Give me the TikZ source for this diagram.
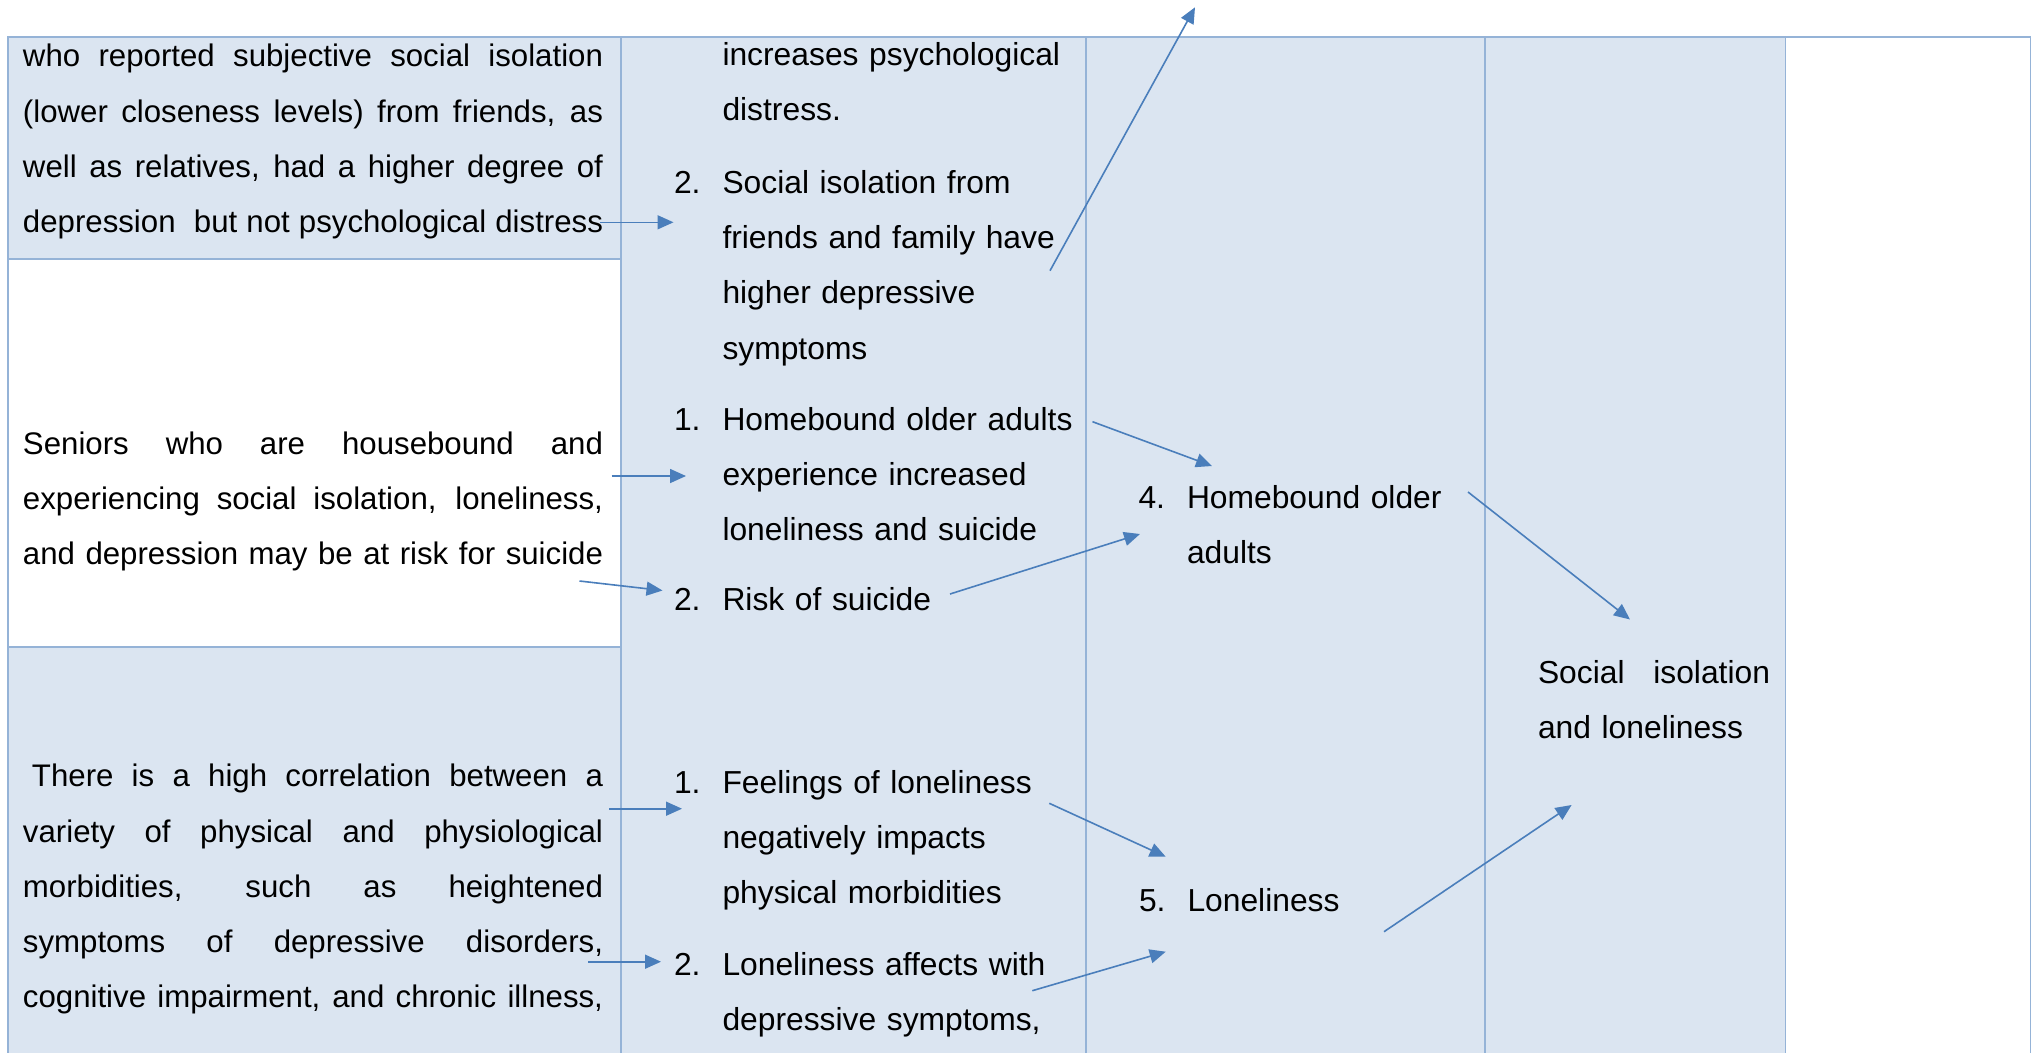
\documentclass[tikz,border=0pt]{standalone}
\usepackage{fontspec}
\setmainfont{Liberation Sans}
\usetikzlibrary{arrows.meta}
\definecolor{cellblue}{HTML}{DBE5F1}
\definecolor{gridblue}{HTML}{95B3D7}
\definecolor{arrowblue}{HTML}{4A7EBB}
\newcommand\jline[2][580pt]{\makebox[#1][s]{\spaceskip=.278em plus 1fil minus .09em\relax #2}}
\newcommand\numlab[1]{\makebox[48.5pt][l]{#1}}
\newcommand\hind{\hspace*{48.5pt}}
\begin{document}
\begin{tikzpicture}[x=1pt,y=-1pt,
  txt/.style={anchor=base west,inner sep=0pt,outer sep=0pt,text width=#1,align=left,
    font=\fontsize{31.8}{55.3}\selectfont},
  txt/.default=420pt,
  ltxt/.style={txt=590pt,font=\fontsize{31.2}{55.3}\selectfont},
  hline/.style={draw=gridblue,line width=2pt},
  vline/.style={draw=gridblue,line width=1.4pt},
  arr/.style={draw=arrowblue,line width=1.6pt,-{Triangle[length=16pt,width=14pt]}}]
\useasboundingbox (0,0) rectangle (2040,1053);
% cell shading
\fill[cellblue] (8,36.5) rectangle (621,258.5);
\fill[cellblue] (8,646.5) rectangle (621,1053);
\fill[cellblue] (621,36.5) rectangle (1785.5,1053);
% grid
\draw[hline] (7,36.5) -- (2031,36.5);
\draw[hline] (8,258.5) -- (621,258.5);
\draw[hline] (8,646.5) -- (621,646.5);
\draw[hline] (8,36.5) -- (8,1053);
\draw[vline] (621,36.5) -- (621,1053);
\draw[vline] (1086,36.5) -- (1086,1053);
\draw[vline] (1485,36.5) -- (1485,1053);
\draw[vline] (1785.5,36.5) -- (1785.5,1053);
\draw[vline] (2030.5,36.5) -- (2030.5,1053);
% left column texts
\node[ltxt] (L1) at (23,66.7) {\jline{who reported subjective social isolation}\\\jline{(lower closeness levels) from friends, as}\\\jline{well as relatives, had a higher degree of}\\\jline{depression\ \ but not psychological distress}};
\node[ltxt] (L2) at (23,454) {\jline{Seniors who are housebound and}\\\jline{experiencing social isolation, loneliness,}\\\jline{and depression may be at risk for suicide}};
\node[ltxt] (L3) at (23,786.7) {\jline{\kern9pt There is a high correlation between a}\\\jline{variety of physical and physiological}\\\jline{morbidities, such as heightened}\\\jline{symptoms of depressive disorders,}\\\jline{cognitive impairment, and chronic illness,}};
% second column
\node[txt] (m1) at (674,65) {\hind increases psychological\\\hind distress.};
\node[txt] (m2) at (674,193.3) {\numlab{2.}Social isolation from\\\hind friends and family have\\\hind higher depressive\\\hind symptoms};
\node[txt] (m3) at (674,430) {\numlab{1.}Homebound older adults\\\hind experience increased\\\hind loneliness and suicide};
\node[txt] (m4) at (674,610.5) {\numlab{2.}Risk of suicide};
\node[txt] (m5) at (674,793) {\numlab{1.}Feelings of loneliness\\\hind negatively impacts\\\hind physical morbidities};
\node[txt] (m6) at (674,975) {\numlab{2.}Loneliness affects with\\\hind depressive symptoms,};
% third column
\node[txt] (c1) at (1138.5,508) {\numlab{4.}Homebound older\\\hind adults};
\node[txt] (c2) at (1139,911.5) {\numlab{5.}Loneliness};
% fourth column
\node[txt=240pt] (d1) at (1538,683) {\jline[232pt]{Social isolation}\\and loneliness};
% arrow end points
\coordinate (a1s) at (600,222.3);   \coordinate (a1e) at (673.5,222.3);
\coordinate (a2s) at (1050,270.7);  \coordinate (a2e) at (1195,7.3);
\coordinate (a3s) at (611.5,476);   \coordinate (a3e) at (686,476);
\coordinate (a4s) at (579.5,581);   \coordinate (a4e) at (662.5,590.5);
\coordinate (a5s) at (1092.5,421.7);\coordinate (a5e) at (1212,466);
\coordinate (a6s) at (950,594);     \coordinate (a6e) at (1140,534);
\coordinate (a7s) at (1468,492);    \coordinate (a7e) at (1630,619.5);
\coordinate (a8s) at (1049.3,803.3);\coordinate (a8e) at (1165.7,856.7);
\coordinate (a9s) at (1032.3,990.7);\coordinate (a9e) at (1165.7,951.7);
\coordinate (a10s) at (1384,931.7); \coordinate (a10e) at (1571.6,805);
\coordinate (a11s) at (609,808.7);  \coordinate (a11e) at (682,808.7);
\coordinate (a12s) at (588,961.7);  \coordinate (a12e) at (661,961.7);
% arrows
\draw[arr] (a1s) -- (a1e);
\draw[arr] (a2s) -- (a2e);
\draw[arr] (a3s) -- (a3e);
\draw[arr] (a4s) -- (a4e);
\draw[arr] (a5s) -- (a5e);
\draw[arr] (a6s) -- (a6e);
\draw[arr] (a7s) -- (a7e);
\draw[arr] (a8s) -- (a8e);
\draw[arr] (a9s) -- (a9e);
\draw[arr] (a10s) -- (a10e);
\draw[arr] (a11s) -- (a11e);
\draw[arr] (a12s) -- (a12e);
\end{tikzpicture}
\end{document}
